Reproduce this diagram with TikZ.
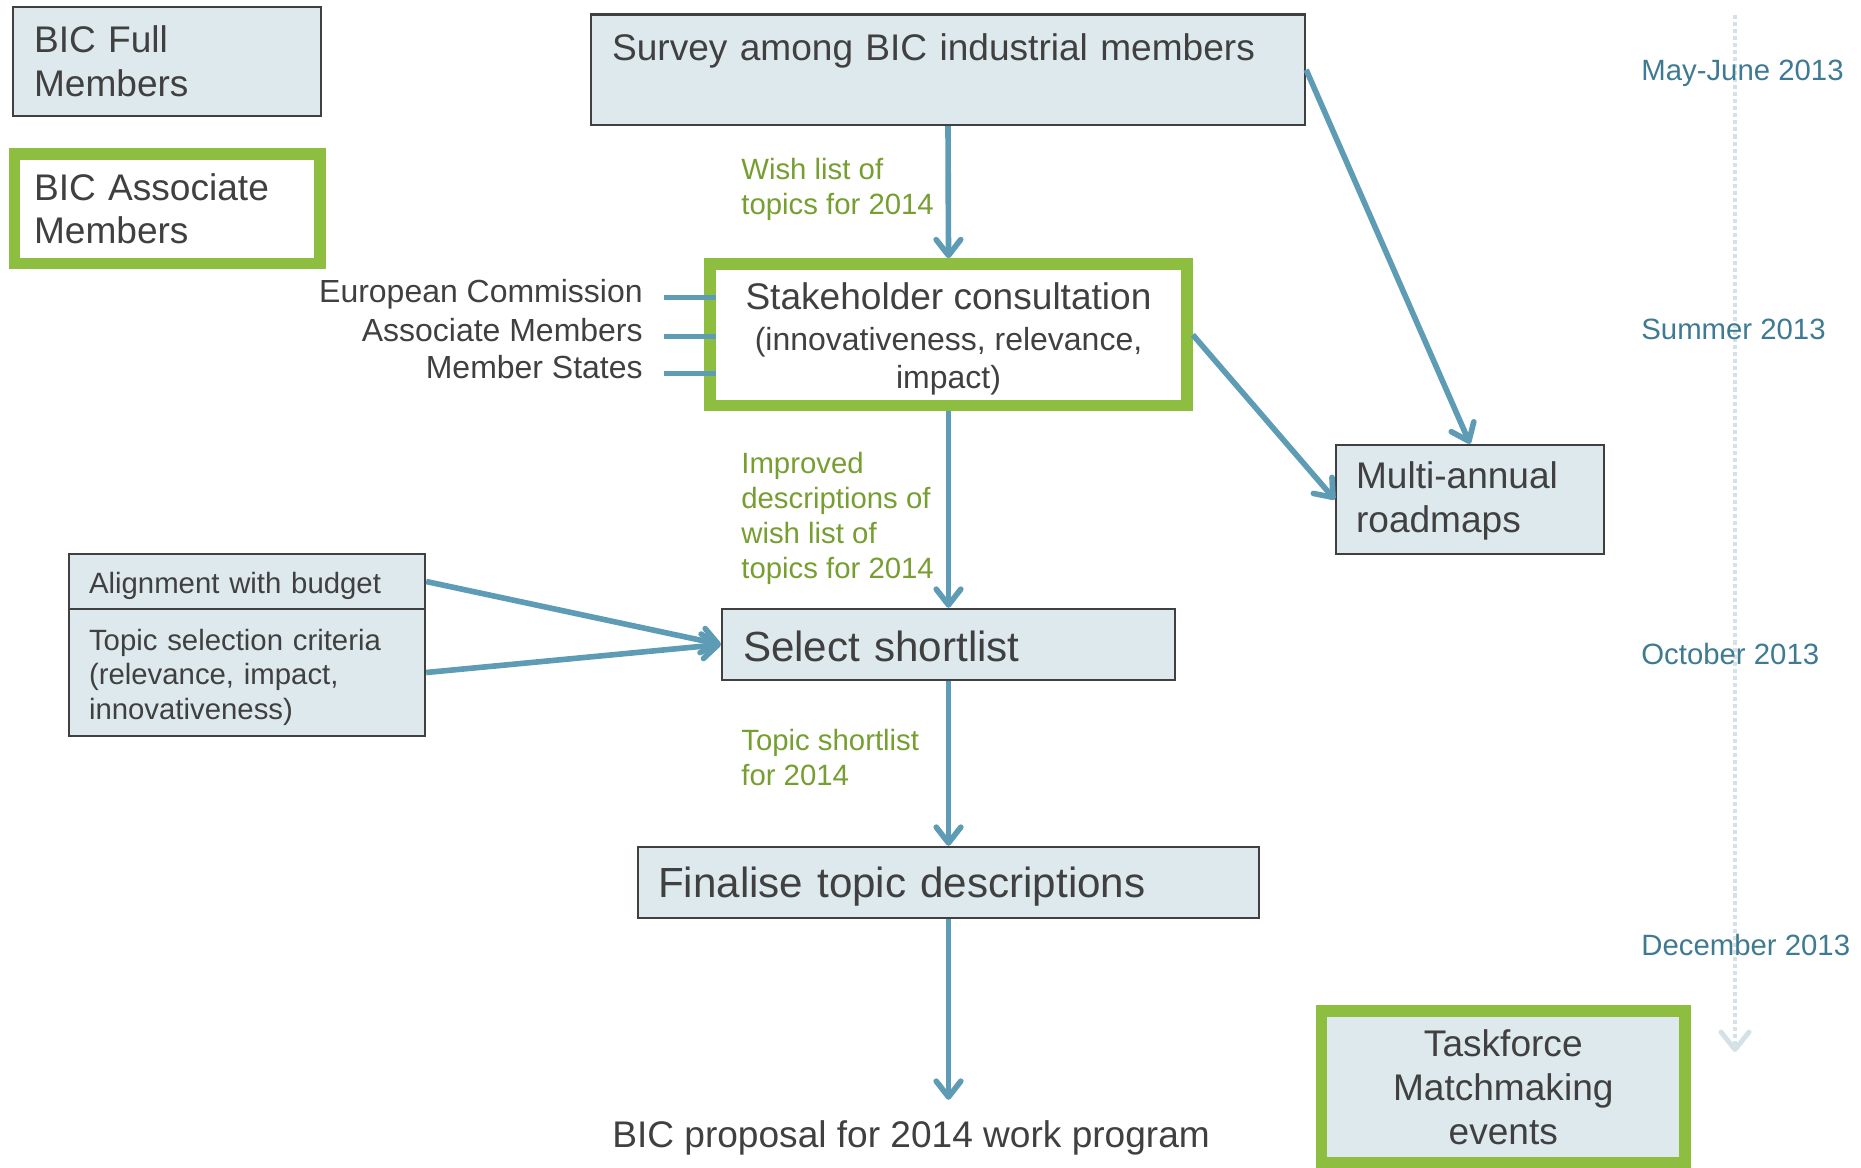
\documentclass[tikz,border=0pt]{standalone}
\usepackage{fontspec}
\setmainfont{Liberation Sans}
\usetikzlibrary{positioning, calc, arrows.meta}
\definecolor{boxfill}{RGB}{222,233,237}
\definecolor{boxline}{RGB}{64,64,64}
\definecolor{boxgreen}{RGB}{141,190,63}
\definecolor{arrowblue}{RGB}{94,156,182}
\definecolor{labelgreen}{RGB}{118,158,48}
\definecolor{datecol}{RGB}{62,122,146}
\definecolor{timecol}{RGB}{212,226,232}

\begin{document}
\begin{tikzpicture}[x=0.02cm, y=-0.02cm, box/.style={shape=rectangle, draw=boxline, fill=boxfill, line width=1.4pt, text=boxline, align=left, inner ysep=0pt}, greenbox/.style={box, draw=boxgreen, line width=6.6pt}, big text/.style={font=\fontsize{21.1}{25}\selectfont}, huge text/.style={font=\fontsize{24}{28}\selectfont}, mid text/.style={font=\fontsize{18.2}{21.9}\selectfont}, small text/.style={font=\fontsize{16.7}{19.9}\selectfont}, flowarrow/.style={draw=arrowblue, line width=3.2pt, -{Straight Barb[length=9pt,width=14pt,round]}}, feed/.style={draw=arrowblue, line width=3.2pt}, note/.style={small text, text=labelgreen, align=left, inner sep=0pt, anchor=north west}, date/.style={small text, text=datecol, inner sep=0pt, anchor=base west}, timeline/.style={draw=timecol, line width=2.8pt, dash pattern=on 2.3pt off 1.7pt, -{Straight Barb[length=10pt,width=16pt,round]}}]
\useasboundingbox (0,0) rectangle (1861,1167);
\coordinate (time start) at (1735,15);
\coordinate (time end) at (1735,1052);
\draw[timeline] (time start) -- (time end);
\foreach \y/\t in {80/May-June 2013, 339/Summer 2013, 664/October 2013, 955/December 2013} {
	\node[date] (date \y) at (1641,\y) {\t};
}
\node[box, big text, text width=5.32cm, inner xsep=0.42cm, minimum height=2.18cm] (full) at (167,61.5) {BIC Full\\Members};
\node[greenbox, fill=white, big text, text width=5.33cm, inner xsep=0.39cm, minimum height=2.19cm] (assoc) at (167.25,208.75) {BIC Associate\\Members};
\node[box, big text, text width=13.44cm, inner xsep=0.42cm, text height=0.91cm, text depth=1.3cm] (survey) at (948,69.75) {Survey among BIC industrial members};
\node[greenbox, fill=white, mid text, align=center, minimum width=9.54cm, minimum height=2.83cm, inner sep=0pt] (stake) at (948.5,334.75) {\rule{0pt}{0.7cm}{\fontsize{21.1}{25}\selectfont Stakeholder consultation}\\[1.3pt](innovativeness, relevance,\\impact)};
\node[box, huge text, text width=8.22cm, inner xsep=0.42cm, text height=1.04cm, text depth=0.38cm] (select) at (948.5,644.5) {Select shortlist};
\node[box, huge text, text width=11.62cm, inner xsep=0.4cm, text height=1.0cm, text depth=0.42cm] (final) at (948.5,882.5) {Finalise topic descriptions};
\node[box, big text, text width=4.56cm, inner xsep=0.4cm, minimum height=2.18cm] (roadmap) at (1470,499.5) {\rule{0pt}{0.6cm}Multi-annual\\roadmaps};
\node[box, small text, text width=6.32cm, inner xsep=0.4cm, text height=0.78cm, text depth=0.32cm] (budget) at (247,581.5) {Alignment with budget};
\node[box, small text, text width=6.32cm, inner xsep=0.4cm, minimum height=2.54cm] (criteria) at (247,672.5) {\rule{0pt}{0.62cm}Topic selection criteria\\(relevance, impact,\\innovativeness)};
\node[greenbox, big text, align=center, minimum width=7.27cm, minimum height=3.04cm] (task) at (1503.25,1087) {Taskforce\\Matchmaking\\events};
\node[big text, text=boxline, anchor=base west, inner xsep=0pt, inner ysep=0.4cm] (proposal) at (612,1147) {BIC proposal for 2014 work program};
\node[note] (wish) at (741,158) {Wish list of\\topics for 2014};
\node[note] (improved) at (741,452) {Improved\\descriptions of\\wish list of\\topics for 2014};
\node[note] (shortlist) at (741,729) {Topic shortlist\\for 2014};
\foreach \y/\name/\t in {302/ec/European Commission, 341/am/Associate Members, 378/ms/Member States} {
	\node[mid text, text=boxline, anchor=base east, inner xsep=0pt] (\name) at (643,\y) {\t};
	\draw[feed] ([xshift=0.42cm]\name.mid east) -- ([xshift=0.24cm]stake.west |- \name.mid east);
}
\draw[flowarrow] (survey.south) -- (stake.north);
\draw[flowarrow] (stake.south) -- (select.north);
\draw[flowarrow] (select.south) -- (final.north);
\draw[flowarrow] (final.south) -- (final.south |- proposal.north);
\draw[flowarrow] (survey.east) -- (roadmap.north);
\draw[flowarrow] (stake.east) -- (roadmap.west);
\draw[flowarrow] (budget.east) -- (select.west);
\draw[flowarrow] (criteria.east) -- (select.west);
\end{tikzpicture}
\end{document}
